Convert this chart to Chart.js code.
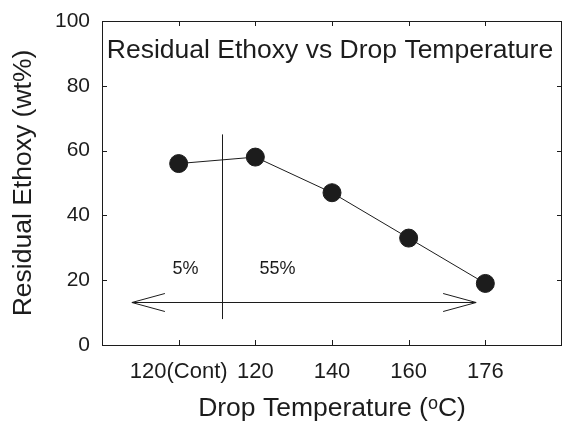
<!DOCTYPE html>
<html>
<head>
<meta charset="utf-8">
<script src="https://cdn.jsdelivr.net/npm/chart.js@4"></script>
<style>
  html, body { margin: 0; padding: 0; background: #fff; overflow: hidden; }
  canvas { display: block; }
</style>
</head>
<body>
<canvas id="chart" width="562" height="425"></canvas>
<script>
// data
const categories = ['120(Cont)', '120', '140', '160', '176'];
const ethoxy = [56, 58, 47, 33, 19];
const yTicks = [0, 20, 40, 60, 80, 100];
const zoneLabels = ['5%', '55%'];

const INK = '#1c1c1c';
const FONT = 'Arial, "Liberation Sans", sans-serif';

// frame, inside ticks, the divider, arrow and texts
const overlay = {
  id: 'overlay',
  beforeDatasetsDraw(chart) {
    const { ctx, chartArea: a, scales: { x, y } } = chart;
    ctx.save();
    ctx.strokeStyle = INK;
    ctx.lineWidth = 1;

    // top + right edge of the box
    ctx.beginPath();
    ctx.moveTo(a.left, a.top + 0.5);
    ctx.lineTo(a.right, a.top + 0.5);
    ctx.moveTo(a.right - 0.5, a.top);
    ctx.lineTo(a.right - 0.5, a.bottom);
    ctx.stroke();

    // inside tick marks
    ctx.beginPath();
    yTicks.forEach(v => {
      const py = Math.round(y.getPixelForValue(v)) + 0.5;
      ctx.moveTo(a.left, py); ctx.lineTo(a.left + 5, py);
      ctx.moveTo(a.right, py); ctx.lineTo(a.right - 5, py);
    });
    categories.forEach((c, i) => {
      const px = Math.round(x.getPixelForValue(i)) + 0.5;
      ctx.moveTo(px, a.bottom); ctx.lineTo(px, a.bottom - 5);
      ctx.moveTo(px, a.top); ctx.lineTo(px, a.top + 5);
    });
    ctx.stroke();

    // vertical divider
    const dx = Math.round(x.getPixelForValue(0.57)) + 0.5;
    ctx.beginPath();
    ctx.moveTo(dx, y.getPixelForValue(65));
    ctx.lineTo(dx, y.getPixelForValue(8));
    ctx.stroke();

    // double arrow
    const ay = Math.round(y.getPixelForValue(13.3)) + 0.5;
    const x1 = x.getPixelForValue(-0.61);
    const x2 = x.getPixelForValue(3.88);
    ctx.beginPath();
    ctx.moveTo(x1, ay); ctx.lineTo(x2, ay);
    ctx.moveTo(x1 + 33, ay - 9); ctx.lineTo(x1, ay); ctx.lineTo(x1 + 33, ay + 9);
    ctx.moveTo(x2 - 33, ay - 9); ctx.lineTo(x2, ay); ctx.lineTo(x2 - 33, ay + 9);
    ctx.stroke();

    // texts
    ctx.fillStyle = INK;
    ctx.textAlign = 'center';
    ctx.textBaseline = 'middle';
    ctx.font = '18px ' + FONT;
    ctx.fillText(zoneLabels[0], x.getPixelForValue(0.09), y.getPixelForValue(23.5));
    ctx.fillText(zoneLabels[1], x.getPixelForValue(1.29), y.getPixelForValue(23.5));

    ctx.font = '26.5px ' + FONT;
    ctx.fillText('Residual Ethoxy vs Drop Temperature', 330, a.top + 30);
    ctx.restore();
  }
};

const ctx = document.getElementById('chart').getContext('2d');
new Chart(ctx, {
  type: 'scatter',
  data: {
    datasets: [{
      data: categories.map((c, i) => ({ x: i, y: ethoxy[i] })),
      showLine: true,
      borderColor: INK,
      borderWidth: 1,
      backgroundColor: INK,
      pointBackgroundColor: INK,
      pointBorderColor: INK,
      pointRadius: 9,
      pointHoverRadius: 9,
    }]
  },
  options: {
    responsive: false,
    animation: false,
    events: [],
    layout: { autoPadding: false, padding: { top: 21, right: -1, left: 0, bottom: 0 } },
    plugins: { legend: { display: false }, tooltip: { enabled: false } },
    scales: {
      x: {
        type: 'linear',
        min: -1,
        max: 5,
        afterFit: s => { s.height = 80; s.paddingLeft = 0; s.paddingRight = 0; },
        grid: { display: false, drawTicks: false },
        border: { display: true, color: INK, width: 1 },
        ticks: {
          stepSize: 1,
          autoSkip: false,
          maxRotation: 0,
          padding: 14,
          color: INK,
          font: { family: FONT, size: 22 },
          callback: v => categories[v] || ''
        },
        title: {
          display: true,
          text: 'Drop Temperature (ᵒC)',
          color: INK,
          font: { family: FONT, size: 26.5 },
          padding: { top: 0, bottom: 0 }
        }
      },
      y: {
        min: 0,
        max: 100,
        afterFit: s => { s.width = 102; s.paddingTop = 0; s.paddingBottom = 0; },
        grid: { display: false, drawTicks: false },
        border: { display: true, color: INK, width: 1 },
        ticks: {
          stepSize: 20,
          padding: 12,
          color: INK,
          font: { family: FONT, size: 21 }
        },
        title: {
          display: true,
          text: 'Residual Ethoxy (wt%)',
          color: INK,
          font: { family: FONT, size: 26.5 },
          padding: { top: 8, bottom: 0 }
        }
      }
    }
  },
  plugins: [overlay]
});
</script>
</body>
</html>
